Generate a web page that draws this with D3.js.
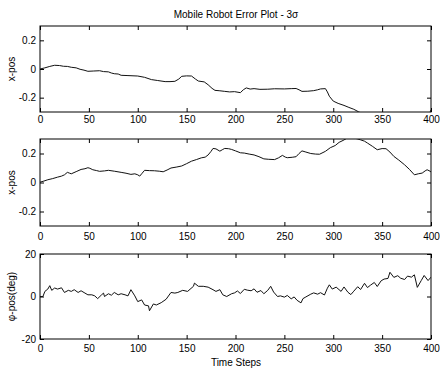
<!DOCTYPE html>
<html>
<head>
<meta charset="utf-8">
<script src="https://cdn.jsdelivr.net/npm/d3@7"></script>
<style>
  body { margin: 0; background: #fff; }
  text { font-family: "Liberation Sans", Arial, sans-serif; }
</style>
</head>
<body>
<div id="chart"></div>
<script>
// x-axis ticks shared by all panels
const stepTicks = [0, 50, 100, 150, 200, 250, 300, 350, 400];

// panel 1: x-pos error, [step, value]
const xErr1 = [
  [0,0],[5,0.008],[10,0.018],[15,0.026],[20,0.024],[24,0.019],[28,0.018],[32,0.012],
  [37,0.008],[41,-0.002],[45,-0.008],[49,-0.016],[55,-0.014],[61,-0.012],[65,-0.018],
  [70,-0.02],[73,-0.028],[76,-0.033],[80,-0.035],[83,-0.044],[90,-0.046],[100,-0.049],
  [107,-0.058],[114,-0.074],[120,-0.08],[128,-0.088],[133,-0.088],[138,-0.086],[142,-0.07],
  [145,-0.051],[150,-0.048],[155,-0.049],[159,-0.07],[162,-0.084],[168,-0.09],[172,-0.11],
  [176,-0.135],[179,-0.149],[184,-0.152],[189,-0.156],[194,-0.16],[199,-0.158],[205,-0.165],
  [208,-0.145],[211,-0.132],[215,-0.14],[219,-0.137],[225,-0.142],[233,-0.141],[240,-0.138],
  [250,-0.139],[257,-0.137],[262,-0.136],[265,-0.145],[268,-0.156],[274,-0.155],[280,-0.151],
  [284,-0.145],[287,-0.139],[292,-0.137],[294,-0.16],[296,-0.19],[300,-0.224],[305,-0.24],
  [311,-0.254],[316,-0.268],[321,-0.281],[326,-0.299],[335,-0.33],[360,-0.38],[395,-0.4],
  [398,-0.32],[400,-0.285]
];

// panel 2: x-pos error, [step, value]
const xErr2 = [
  [0,0.002],[4,0.01],[8,0.019],[13,0.027],[18,0.037],[22,0.044],[25,0.053],[28,0.07],
  [30,0.065],[32,0.06],[37,0.075],[42,0.09],[46,0.095],[49,0.102],[51,0.098],[54,0.088],
  [58,0.082],[61,0.077],[66,0.08],[70,0.084],[76,0.078],[83,0.07],[88,0.064],[93,0.056],
  [97,0.06],[100,0.053],[102,0.044],[104,0.06],[107,0.084],[112,0.082],[117,0.081],
  [122,0.078],[126,0.074],[130,0.086],[134,0.1],[140,0.107],[145,0.114],[150,0.13],
  [155,0.147],[160,0.158],[165,0.17],[169,0.175],[172,0.19],[175,0.215],[177,0.235],
  [180,0.232],[184,0.216],[187,0.228],[189,0.235],[193,0.233],[196,0.228],[200,0.218],
  [205,0.205],[209,0.203],[214,0.196],[219,0.19],[224,0.178],[229,0.163],[234,0.16],
  [240,0.158],[244,0.17],[248,0.187],[251,0.175],[253,0.171],[258,0.174],[262,0.178],
  [265,0.2],[268,0.218],[272,0.21],[277,0.2],[282,0.196],[286,0.195],[292,0.215],[297,0.24],
  [302,0.255],[306,0.277],[310,0.29],[314,0.305],[320,0.31],[325,0.3],[328,0.294],
  [332,0.285],[335,0.272],[340,0.25],[345,0.226],[350,0.234],[354,0.233],[358,0.21],
  [362,0.18],[367,0.155],[373,0.122],[378,0.09],[383,0.053],[387,0.06],[391,0.065],
  [394,0.08],[396,0.088],[399,0.078],[400,0.072]
];

// panel 3: heading error in degrees, [step, value]
const phiErr = [
  [0,0],[3,0],[5,2.4],[8,3.5],[10,5.1],[12,2.9],[15,4],[18,3.5],[22,4.1],[25,1.9],[29,2.9],
  [32,2.4],[35,3.2],[39,1.9],[42,2.7],[46,1.6],[49,0.8],[53,0.8],[56,0.3],[59,-1],[63,0.8],
  [65,1.6],[66,0],[70,1.3],[73,0.6],[76,1.9],[80,0.8],[83,1.3],[87,0.8],[90,0.3],[93,3.2],
  [97,0.3],[100,-2.4],[104,-1.6],[107,-4],[111,-4.4],[112,-6.7],[116,-3.5],[119,-4],
  [124,-2.9],[129,-1.3],[134,1.9],[138,1.6],[141,1.9],[146,2.9],[151,2.4],[157,4.8],
  [158,6.3],[162,4.8],[167,4.8],[172,4.4],[177,3.2],[180,2.4],[184,3.2],[187,0.8],[191,0],
  [196,1.3],[199,1.7],[202,2.6],[205,1.4],[209,3.4],[212,3],[216,2.7],[219,3.6],[222,2],
  [226,2.8],[229,1.3],[233,2.9],[236,4.8],[239,2.1],[243,0],[246,0.3],[250,-0.3],[253,0.5],
  [257,-1.1],[260,-0.2],[263,-1.8],[267,-3],[269,-1],[272,-0.2],[277,1.1],[280,1.7],
  [284,1.1],[287,1.8],[291,0.7],[294,3.9],[296,5.5],[299,3.5],[303,4.4],[308,2.4],[311,4.5],
  [315,2],[318,0.9],[321,2.5],[325,4.6],[328,3.3],[332,6.2],[335,4.2],[338,5.3],[342,6.6],
  [345,4.7],[349,7.4],[352,8.2],[356,8.5],[358,11.4],[362,9],[366,9.8],[369,8.6],[373,8],
  [376,9.6],[380,9.1],[383,10.2],[386,4.3],[390,7.5],[393,9.9],[397,7.5],[400,9.1]
];

const width = 440, height = 369;
const left = 40, right = 431;

const panels = [
  { data: xErr1, top: 26, bottom: 112, domain: [-0.3, 0.3], ticks: [-0.2, 0, 0.2], label: "x-pos", pad: 4 },
  { data: xErr2, top: 139, bottom: 226, domain: [-0.3, 0.3], ticks: [-0.2, 0, 0.2], label: "x-pos", pad: 7 },
  { data: phiErr, top: 254, bottom: 339, domain: [-20, 20], ticks: [-20, 0, 20], label: "\u03c6-pos(deg)", pad: 6 }
];

const svg = d3.select("#chart").append("svg")
  .attr("width", width)
  .attr("height", height);

const x = d3.scaleLinear().domain([0, 400]).range([left, right]);

panels.forEach((p, i) => {
  const y = d3.scaleLinear().domain(p.domain).range([p.bottom, p.top]);
  const g = svg.append("g");

  // clip so the curve stays inside the box
  g.append("clipPath").attr("id", "clip" + i)
    .append("rect")
    .attr("x", left).attr("y", p.top)
    .attr("width", right - left).attr("height", p.bottom - p.top);

  const fmt = d => String(d);

  // inward ticks on all four sides
  g.append("g").attr("transform", `translate(0,${p.bottom})`)
    .call(d3.axisBottom(x).tickValues(stepTicks).tickSize(-4).tickPadding(p.pad).tickFormat(fmt));
  g.append("g").attr("transform", `translate(0,${p.top})`)
    .call(d3.axisTop(x).tickValues(stepTicks).tickSize(-4).tickFormat(""));
  g.append("g").attr("transform", `translate(${left},0)`)
    .call(d3.axisLeft(y).tickValues(p.ticks).tickSize(-4).tickPadding(4).tickFormat(fmt));
  g.append("g").attr("transform", `translate(${right},0)`)
    .call(d3.axisRight(y).tickValues(p.ticks).tickSize(-4).tickFormat(""));

  g.selectAll(".domain").remove();
  g.selectAll(".tick line").attr("stroke", "#000");
  g.selectAll(".tick text").attr("fill", "#000").style("font-size", "10px");

  g.append("rect")
    .attr("x", left).attr("y", p.top)
    .attr("width", right - left).attr("height", p.bottom - p.top)
    .attr("fill", "none").attr("stroke", "#000").attr("stroke-width", 1);

  g.append("path")
    .datum(p.data)
    .attr("clip-path", `url(#clip${i})`)
    .attr("fill", "none")
    .attr("stroke", "#111")
    .attr("stroke-width", 1)
    .attr("d", d3.line().x(d => x(d[0])).y(d => y(d[1])));

  g.append("text")
    .attr("transform", `translate(15,${(p.top + p.bottom) / 2}) rotate(-90)`)
    .attr("text-anchor", "middle")
    .style("font-size", "10px")
    .text(p.label);
});

svg.append("text")
  .attr("x", 236).attr("y", 18)
  .attr("text-anchor", "middle")
  .style("font-size", "10px")
  .text("Mobile Robot Error Plot - 3\u03c3");

svg.append("text")
  .attr("x", 236).attr("y", 366)
  .attr("text-anchor", "middle")
  .style("font-size", "10px")
  .text("Time Steps");
</script>
</body>
</html>
